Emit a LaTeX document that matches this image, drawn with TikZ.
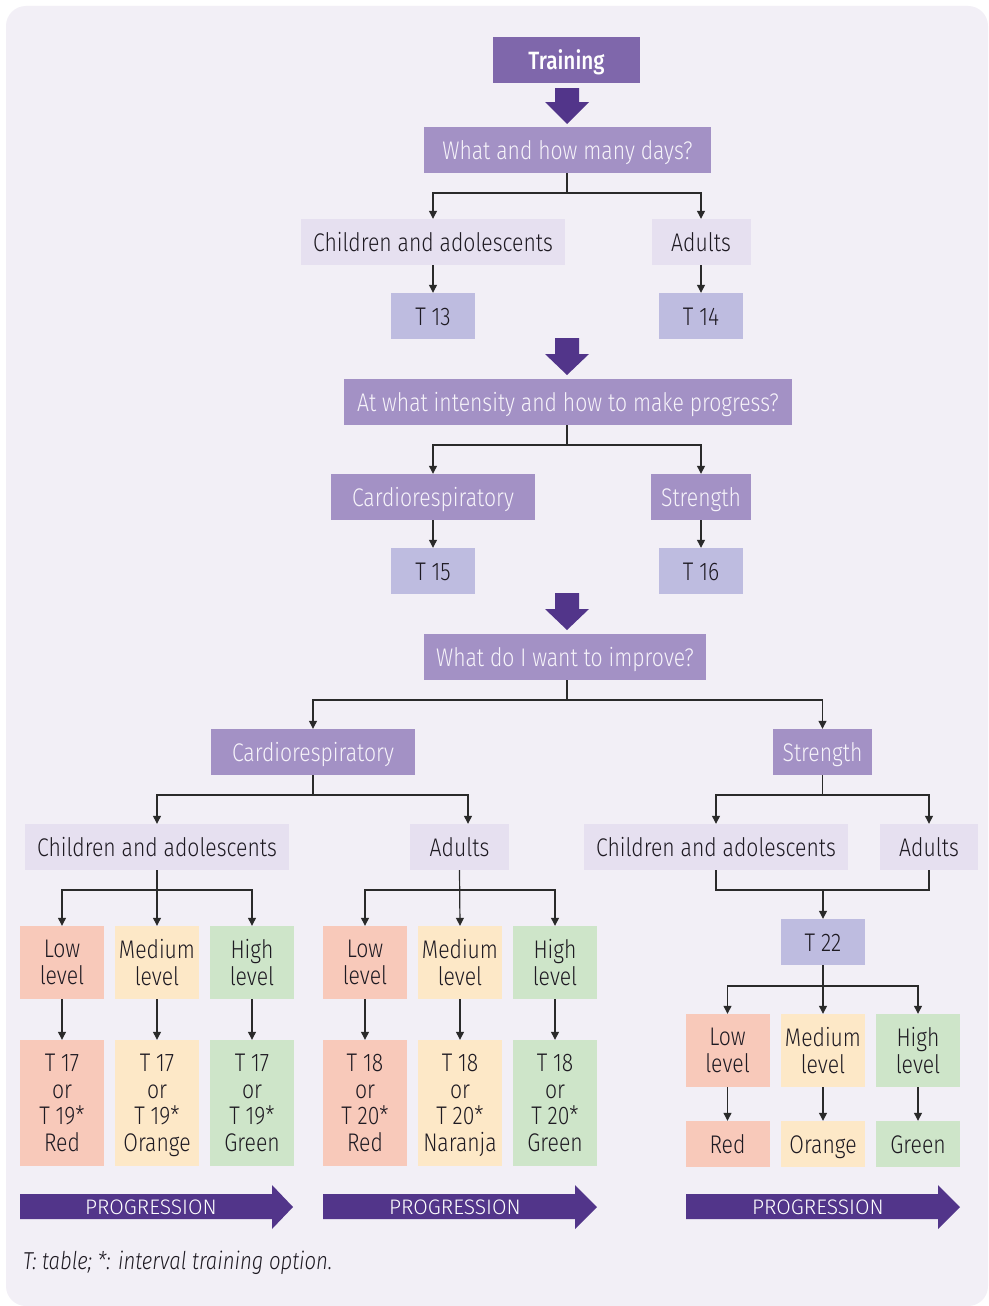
\documentclass[tikz,border=0pt]{standalone}
\usepackage{fontspec}
\setmainfont{Fira Sans}[UprightFont={* Light}, ItalicFont={* Light Italic}, BoldFont={* Medium}, FakeStretch=0.83]
\newfontfamily\progfont{Fira Sans}[UprightFont={* Light}]
\usetikzlibrary{arrows.meta}
\newcommand{\nodepth}[1]{\raisebox{0pt}[\height][0pt]{#1}}
\definecolor{bgc}{HTML}{F2EFF6}
\definecolor{trainc}{HTML}{7F67AB}
\definecolor{darkc}{HTML}{52358A}
\definecolor{qc}{HTML}{A391C5}
\definecolor{qtxt}{HTML}{F6F3FA}
\definecolor{lightc}{HTML}{E6E0F0}
\definecolor{tc}{HTML}{BEBCE0}
\definecolor{lowc}{HTML}{F8C9BA}
\definecolor{medc}{HTML}{FDE8C7}
\definecolor{highc}{HTML}{CEE5C9}
\definecolor{txtc}{HTML}{1E1A22}
\definecolor{linec}{HTML}{2A2A2A}
\tikzset{
  box/.style={rectangle, inner sep=0pt, minimum height=46pt, align=center, text=txtc,
    font=\fontsize{25.5}{26.5}\selectfont},
  single/.style={box, text height=21pt, text depth=2pt},
  qbox/.style={single, fill=qc, text=qtxt},
  lbox/.style={single, fill=lightc},
  tbox/.style={single, fill=tc, minimum width=84pt},
  lev/.style={box, minimum width=84pt, minimum height=73pt},
  tall/.style={box, minimum width=84pt, minimum height=126pt},
  conn/.style={draw=linec, line width=1.2pt},
  arr/.style={conn, -{Triangle[width=8pt,length=8pt]}},
  bigarrow/.style={fill=darkc},
  progtext/.style={text=white, font=\progfont\fontsize{21}{22}\selectfont, inner sep=0pt}
}
\begin{document}
\begin{tikzpicture}[x=1pt,y=-1pt]
\useasboundingbox (0,0) rectangle (988,1306);
\fill[white] (0,0) rectangle (988,1306);
\fill[bgc, rounded corners=20pt] (6,6) rectangle (988,1306);

% top section
\node[single, fill=trainc, text=white, minimum width=147pt, font=\bfseries\fontsize{25}{26}\selectfont] (train) at (566.5,60) {Training};
\fill[bigarrow] (555,88) -- (579,88) -- (579,102) -- (589,102) -- (567,124) -- (545,102) -- (555,102) -- cycle;
\node[qbox, minimum width=287pt] (q1) at (567.5,150) {What and how many days?};
\node[lbox, minimum width=264pt] (ca1) at (433,242) {Children and adolescents};
\node[lbox, minimum width=99pt] (ad1) at (701,242) {Adults};
\node[tbox] (t13) at (433,316) {T 13};
\node[tbox] (t14) at (701,316) {T 14};

\draw[conn] (567,173) -- (567,193) coordinate (b1);
\draw[arr] (b1) -| (ca1.north);
\draw[arr] (b1) -| (ad1.north);
\draw[arr] (ca1.south) -- (t13.north);
\draw[arr] (ad1.south) -- (t14.north);

\fill[bigarrow] (555,338) -- (579,338) -- (579,354) -- (589,354) -- (567,375) -- (545,354) -- (555,354) -- cycle;

% second section
\node[qbox, minimum width=448pt] (q2) at (568,402) {At what intensity and how to make progress?};
\node[qbox, minimum width=204pt] (cr1) at (433,497) {Cardiorespiratory};
\node[qbox, minimum width=100pt] (st1) at (701,497) {Strength};
\node[tbox] (t15) at (433,571) {T 15};
\node[tbox] (t16) at (701,571) {T 16};

\draw[conn] (567,425) -- (567,445) coordinate (b2);
\draw[arr] (b2) -| (cr1.north);
\draw[arr] (b2) -| (st1.north);
\draw[arr] (cr1.south) -- (t15.north);
\draw[arr] (st1.south) -- (t16.north);

\fill[bigarrow] (555,593) -- (579,593) -- (579,609) -- (589,609) -- (567,630) -- (545,609) -- (555,609) -- cycle;

% third section
\node[qbox, minimum width=282pt] (q3) at (565,657) {What do I want to improve?};
\node[qbox, minimum width=204pt] (cr2) at (313,752) {Cardiorespiratory};
\node[qbox, minimum width=99pt] (st2) at (822.5,752) {Strength};

\draw[conn] (567,680) -- (567,700) coordinate (b3);
\draw[arr] (b3) -| (cr2.north);
\draw[arr] (b3) -| (st2.north);

\node[lbox, minimum width=264pt] (ca2) at (157,847) {Children and adolescents};
\node[lbox, minimum width=99pt] (ad2) at (459.5,847) {Adults};
\node[lbox, minimum width=264pt] (ca3) at (716,847) {Children and adolescents};
\node[lbox, minimum width=98pt] (ad3) at (929,847) {Adults};

\draw[conn] (cr2.south) -- (313,795) coordinate (b4);
\draw[arr] (b4) -| (ca2.north);
\draw[arr] (b4) -| ([xshift=8.5pt]ad2.north);
\draw[conn] (st2.south) -- (822.5,795) coordinate (b5);
\draw[arr] (b5) -| (ca3.north);
\draw[arr] (b5) -| (ad3.north);

% left group: children
\node[lev, fill=lowc] (l1) at (62,962.5) {Low\\level};
\node[lev, fill=medc] (m1) at (157,962.5) {Medium\\level};
\node[lev, fill=highc] (h1) at (252,962.5) {High\\level};
\node[tall, fill=lowc] (tl1) at (62,1103) {T 17\\or\\T 19*\\Red};
\node[tall, fill=medc] (tm1) at (157,1103) {T 17\\or\\T 19*\\\nodepth{Orange}};
\node[tall, fill=highc] (th1) at (252,1103) {T 17\\or\\T 19*\\Green};

\draw[conn] (ca2.south) -- (157,890) coordinate (b6);
\draw[arr] (b6) -| (l1.north);
\draw[arr] (b6) -| (h1.north);
\draw[arr] (ca2.south) -- (m1.north);
\draw[arr] (l1.south) -- (tl1.north);
\draw[arr] (m1.south) -- (tm1.north);
\draw[arr] (h1.south) -- (th1.north);

% middle group: adults
\node[lev, fill=lowc] (l2) at (365,962.5) {Low\\level};
\node[lev, fill=medc] (m2) at (460,962.5) {Medium\\level};
\node[lev, fill=highc] (h2) at (555,962.5) {High\\level};
\node[tall, fill=lowc] (tl2) at (365,1103) {T 18\\or\\T 20*\\Red};
\node[tall, fill=medc] (tm2) at (460,1103) {T 18\\or\\T 20*\\\nodepth{Naranja}};
\node[tall, fill=highc] (th2) at (555,1103) {T 18\\or\\T 20*\\Green};

\draw[conn] (ad2.south) -- (459.5,890) coordinate (b7);
\draw[arr] (b7) -| (l2.north);
\draw[arr] (b7) -| (h2.north);
\draw[arr] (ad2.south) -- (m2.north);
\draw[arr] (l2.south) -- (tl2.north);
\draw[arr] (m2.south) -- (tm2.north);
\draw[arr] (h2.south) -- (th2.north);

% right group: strength
\node[tbox] (t22) at (823,942) {T 22};
\draw[conn] (ca3.south) -- (716,890) coordinate (m1c) -- (929,890) coordinate (m2c) -- (ad3.south);
\draw[arr] (m1c -| t22.north) -- (t22.north);

\node[lev, fill=lowc] (l3) at (727.5,1050.5) {Low\\level};
\node[lev, fill=medc] (m3) at (823,1050.5) {Medium\\level};
\node[lev, fill=highc] (h3) at (918,1050.5) {High\\level};
\node[single, minimum width=84pt, fill=lowc] (c1) at (727.5,1144) {Red};
\node[single, minimum width=84pt, fill=medc] (c2) at (823,1144) {Orange};
\node[single, minimum width=84pt, fill=highc] (c3) at (918,1144) {Green};

\draw[conn] (t22.south) -- (823,986) coordinate (b8);
\draw[arr] (b8) -| (l3.north);
\draw[arr] (b8) -| (h3.north);
\draw[arr] (t22.south) -- (m3.north);
\draw[arr] (l3.south) -- (c1.north);
\draw[arr] (m3.south) -- (c2.north);
\draw[arr] (h3.south) -- (c3.north);

% progression arrows
\fill[darkc] (20,1194) -- (272,1194) -- (272,1185) -- (293,1207) -- (272,1229) -- (272,1219) -- (20,1219) -- cycle;
\node[progtext] (p1) at (151,1207) {PROGRESSION};
\fill[darkc] (323,1194) -- (575,1194) -- (575,1185) -- (597,1207) -- (575,1229) -- (575,1219) -- (323,1219) -- cycle;
\node[progtext] (p2) at (455,1207) {PROGRESSION};
\fill[darkc] (686,1194) -- (938,1194) -- (938,1185) -- (960,1207) -- (938,1229) -- (938,1219) -- (686,1219) -- cycle;
\node[progtext] (p3) at (818,1207) {PROGRESSION};

\node[anchor=base west, inner sep=0pt, text=txtc, font=\itshape\fontsize{24.5}{26}\selectfont] (note) at (23,1269) {T: table; *: interval training option.};
\end{tikzpicture}
\end{document}
